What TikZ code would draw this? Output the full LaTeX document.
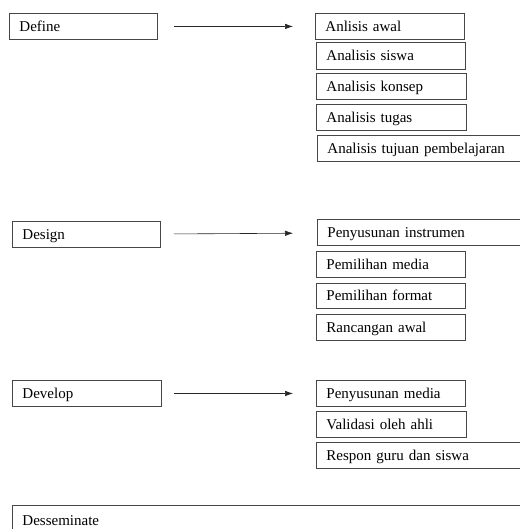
\documentclass[tikz,border=0pt]{standalone}
\usepackage{fontspec}
\setmainfont{Liberation Serif}
\usetikzlibrary{arrows.meta}
\definecolor{lgray}{RGB}{70, 70, 70}

\begin{document}
\begin{tikzpicture}[x=1pt, y=-1pt]
                \useasboundingbox (0,0) rectangle (519,529);

                \tikzstyle{box}=[rectangle, draw=lgray, line width=0.9pt, anchor=north west, inner xsep=10pt, inner ysep=0pt, minimum height=26pt, text height=11.5pt, text depth=1.5pt, align=left, font=\fontsize{15}{17}\selectfont]
                \tikzstyle{bind}=[-{Latex[length=8pt,width=5.5pt]}, line width=0.6pt, color=black!85]

                % Define
                \node[box, text width=128pt] (define) at (9,13) {Define};
                \node[box, text width=129pt] (awal) at (315,13) {Anlisis awal};
                \node[box, text width=129pt, minimum height=27pt] (siswa) at (316,42) {Analisis siswa};
                \node[box, text width=130pt] (konsep) at (316,73) {Analisis konsep};
                \node[box, text width=130pt] (tugas) at (316,104) {Analisis tugas};
                \node[box, text width=200pt] (tujuan) at (317,135) {Analisis tujuan pembelajaran};

                % Design
                \node[box, text width=128pt] (design) at (12,221) {Design};
                \node[box, text width=200pt] (instrumen) at (317,219) {Penyusunan instrumen};
                \node[box, text width=129pt] (media) at (316,251) {Pemilihan media};
                \node[box, text width=129pt, minimum height=25pt] (format) at (316,283) {Pemilihan format};
                \node[box, text width=129pt] (rancangan) at (316,314) {Rancangan awal};

                % Develop
                \node[box, text width=129pt] (develop) at (12,380) {Develop};
                \node[box, text width=129pt] (pmedia) at (316,380) {Penyusunan media};
                \node[box, text width=130pt] (validasi) at (316,411) {Validasi oleh ahli};
                \node[box, text width=200pt] (respon) at (316,442) {Respon guru dan siswa};

                % Desseminate
                \node[box, text width=520pt, minimum height=29pt, text depth=0pt] (dessem) at (12,505) {Desseminate};

                \draw[bind, shorten <=16pt, shorten >=22pt] (define) to (awal);
                \draw[bind, shorten <=13pt, shorten >=24pt] (design) to (instrumen);
                \draw[bind, shorten <=12pt, shorten >=23pt] (develop) to (pmedia);
            \end{tikzpicture}
\end{document}
